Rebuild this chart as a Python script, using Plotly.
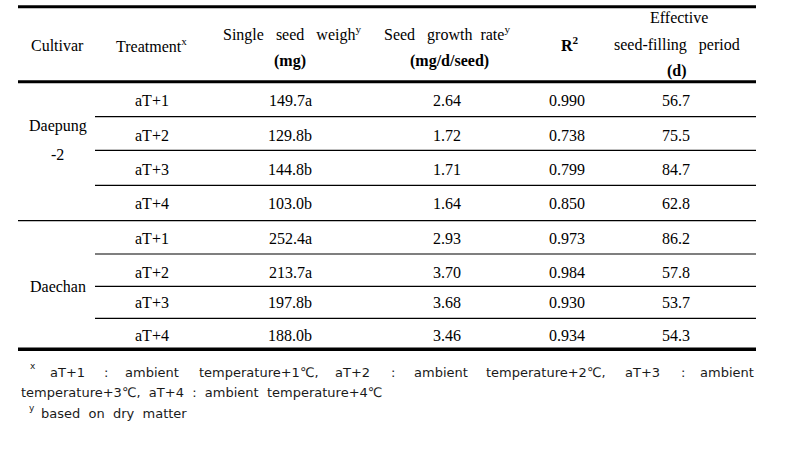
import plotly.graph_objects as go

# ---------------- data ----------------
cultivars = ["Daepung", "-2", "Daechan"]
treatments = ["aT+1", "aT+2", "aT+3", "aT+4", "aT+1", "aT+2", "aT+3", "aT+4"]
seed_weight = ["149.7a", "129.8b", "144.8b", "103.0b", "252.4a", "213.7a", "197.8b", "188.0b"]
growth_rate = [2.64, 1.72, 1.71, 1.64, 2.93, 3.70, 3.68, 3.46]
r_squared = [0.990, 0.738, 0.799, 0.850, 0.973, 0.984, 0.930, 0.934]
fill_period = [56.7, 75.5, 84.7, 62.8, 86.2, 57.8, 53.7, 54.3]

header_texts = [
    "Cultivar",
    "Treatment<sup>x</sup>",
    "Single\u00a0\u00a0\u00a0seed\u00a0\u00a0\u00a0weigh<sup>y</sup>",
    "<b>(mg)</b>",
    "Seed\u00a0\u00a0\u00a0growth\u00a0\u00a0rate<sup>y</sup>",
    "<b>(mg/d/seed)</b>",
    "<b>R<sup>2</sup></b>",
    "Effective",
    "seed-filling\u00a0\u00a0\u00a0period",
    "<b>(d)</b>",
]

foot_line1 = ["aT+1", ":", "ambient", "temperature+1\u2103,", "aT+2", ":", "ambient",
              "temperature+2\u2103,", "aT+3", ":", "ambient"]
foot_line2 = "temperature+3\u2103,\u00a0 aT+4\u00a0 :\u00a0 ambient\u00a0 temperature+4\u2103"
foot_line3 = "based\u00a0 on\u00a0 dry\u00a0 matter"
foot_marks = ["x", "y"]

# ---------------- layout constants ----------------
SERIF = "Liberation Serif, Times New Roman, serif"
SANS = "DejaVu Sans, sans-serif"
FS = 16
BLACK = "#000000"
W, H = 791, 453

col_x = [57.5, 152, 290, 447, 567, 676]
row_y = [100.7, 135, 169, 203, 238, 272.7, 302.7, 335]

header_pos = [
    (57, 45), (151, 45), (292, 33), (290, 61), (447, 33), (449, 61),
    (570, 44), (679, 17), (677, 45), (677, 71),
]
cultivar_pos = [(57.5, 125.5), (57, 154), (57.5, 286)]

foot1_left = [48, 102, 123, 197, 333, 389, 412, 484, 623, 679, 698]

fig = go.Figure()
fig.add_trace(go.Scatter(x=[0, W], y=[0, H], mode="markers",
                         marker=dict(opacity=0), hoverinfo="skip", showlegend=False))

ann = []


def add_text(x, y, text, size=FS, family=SERIF, xanchor="center", color=BLACK):
    ann.append(dict(x=x, y=y, xref="x", yref="y", text=text, showarrow=False,
                    xanchor=xanchor, yanchor="middle",
                    font=dict(family=family, size=size, color=color)))


for (x, y), t in zip(header_pos, header_texts):
    add_text(x, y, t)

for (x, y), t in zip(cultivar_pos, cultivars):
    add_text(x, y, t)

for i, y in enumerate(row_y):
    add_text(col_x[1], y, treatments[i])
    add_text(col_x[2], y, seed_weight[i])
    add_text(col_x[3], y, f"{growth_rate[i]:.2f}")
    add_text(col_x[4], y, f"{r_squared[i]:.3f}")
    add_text(col_x[5], y, f"{fill_period[i]:.1f}")

# footnotes
FCOL = "#1a1a1a"
add_text(28, 366, foot_marks[0], size=9, family=SANS, xanchor="left", color=FCOL)
for x, w in zip(foot1_left, foot_line1):
    add_text(x, 372, w, size=13, family=SANS, xanchor="left", color=FCOL)
add_text(19, 392, foot_line2, size=13, family=SANS, xanchor="left", color=FCOL)
add_text(27, 408, foot_marks[1], size=9, family=SANS, xanchor="left", color=FCOL)
add_text(39, 413, foot_line3, size=13, family=SANS, xanchor="left", color=FCOL)

# rules
shapes = []


def hline(y, x0, x1, w):
    shapes.append(dict(type="line", xref="x", yref="y", x0=x0, x1=x1, y0=y, y1=y,
                       line=dict(color=BLACK, width=w)))


hline(6.7, 18, 756, 3)
hline(81.7, 18, 756, 3)
for y in [116.7, 150.3, 185.3]:
    hline(y, 95, 756, 1.2)
hline(220.7, 18, 756, 1.2)
for y in [254, 286.3, 318.3]:
    hline(y, 95, 756, 1.2)
hline(349.3, 18, 756, 3.5)

fig.update_layout(
    width=W, height=H, autosize=False,
    margin=dict(l=0, r=0, t=0, b=0, pad=0),
    paper_bgcolor="white", plot_bgcolor="white",
    xaxis=dict(range=[0, W], visible=False, fixedrange=True),
    yaxis=dict(range=[H, 0], visible=False, fixedrange=True),
    annotations=ann, shapes=shapes, showlegend=False,
)

fig.write_html(
    "out.html",
    config={"displayModeBar": False},
    post_script="document.body.style.margin='0';document.body.style.overflow='hidden';",
)
